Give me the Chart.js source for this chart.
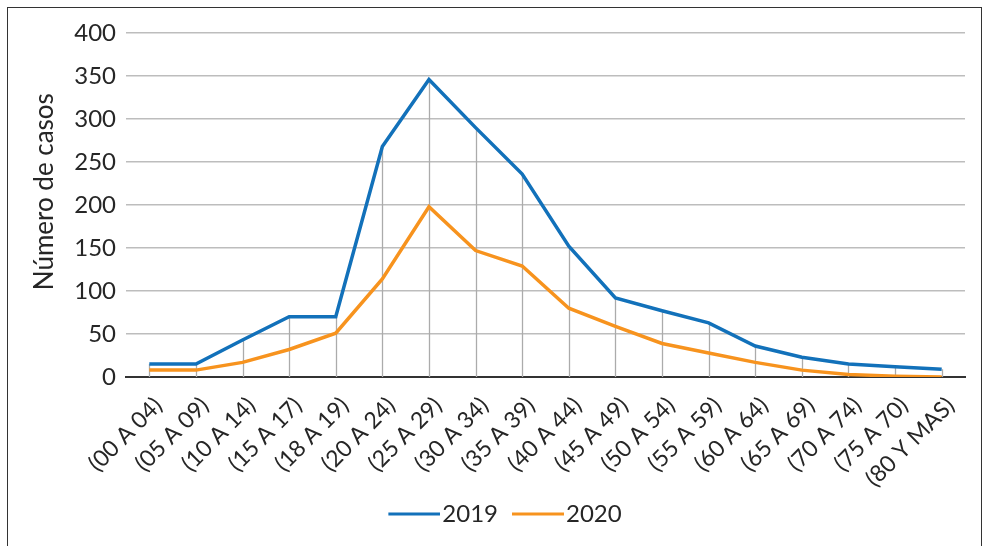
<!DOCTYPE html>
<html>
<head>
<meta charset="utf-8">
<script src="https://cdn.jsdelivr.net/npm/chart.js@4"></script>
<style>
  html, body { margin: 0; padding: 0; background: #fff; }
  #wrap { position: relative; width: 984px; height: 546px; overflow: hidden; }
  #frame { position: absolute; left: 7px; top: 7px; width: 973px; height: 600px; border: 1.5px solid #333; pointer-events: none; }
  canvas { position: absolute; left: 0; top: 0; }
</style>
</head>
<body>
<div id="wrap">
  <canvas id="myChart" width="984" height="546"></canvas>
  <div id="frame"></div>
</div>
<script>
const ageGroups = ['(00 A 04)', '(05 A 09)', '(10 A 14)', '(15 A 17)', '(18 A 19)', '(20 A 24)',
  '(25 A 29)', '(30 A 34)', '(35 A 39)', '(40 A 44)', '(45 A 49)', '(50 A 54)', '(55 A 59)',
  '(60 A 64)', '(65 A 69)', '(70 A 74)', '(75 A 70)', '(80 Y MAS)'];
const cases2019 = [15, 15, 43, 70, 70, 268, 346, 290, 236, 152, 92, 77, 63, 36, 23, 15, 12, 9];
const cases2020 = [8, 8, 17, 32, 51, 114, 198, 147, 129, 80, 59, 39, 28, 17, 8, 3, 1, 0];
const yTicks = [0, 50, 100, 150, 200, 250, 300, 350, 400];

const blue = '#1271BA';
const orange = '#F7931E';
const textColor = '#262626';

// legend swatch: a 52px line ending just before the label text
const swatchBox = 51;
function legendLine(color) {
  const c = document.createElement('canvas');
  c.width = swatchBox + 20;
  c.height = 4;
  const g = c.getContext('2d');
  g.fillStyle = color;
  g.fillRect(c.width - 52, 0.5, 52, 3);
  return c;
}

// vertical drop lines from the axis up to the highest series at each category
const dropLines = {
  id: 'dropLines',
  beforeDatasetsDraw(chart) {
    const { ctx, scales: { x, y } } = chart;
    ctx.save();
    ctx.strokeStyle = '#ABABAB';
    ctx.lineWidth = 1.3;
    ageGroups.forEach((g, i) => {
      const top = Math.max(cases2019[i], cases2020[i]);
      const px = Math.round(x.getPixelForValue(i)) + 0.5;
      ctx.beginPath();
      ctx.moveTo(px, y.getPixelForValue(0));
      ctx.lineTo(px, y.getPixelForValue(top));
      ctx.stroke();
    });
    ctx.restore();
  }
};

const ctx = document.getElementById('myChart');
new Chart(ctx, {
  type: 'line',
  data: {
    labels: ageGroups,
    datasets: [{
      label: '2019',
      data: cases2019,
      borderColor: blue,
      backgroundColor: blue,
      borderWidth: 3.5,
      pointRadius: 0,
      pointStyle: legendLine(blue),
      tension: 0
    }, {
      label: '2020',
      data: cases2020,
      borderColor: orange,
      backgroundColor: orange,
      borderWidth: 3.5,
      pointRadius: 0,
      pointStyle: legendLine(orange),
      tension: 0
    }]
  },
  options: {
    responsive: false,
    animation: false,
    layout: { padding: { left: 36, right: 19, top: 33, bottom: 10 } },
    plugins: {
      legend: {
        position: 'bottom',
        labels: {
          usePointStyle: true,
          pointStyleWidth: swatchBox,
          boxHeight: 4,
          color: textColor,
          font: { family: 'Lato', size: 24 },
          padding: 5
        }
      },
      tooltip: { enabled: false }
    },
    scales: {
      x: {
        offset: true,
        grid: { display: false, drawTicks: false },
        border: { color: '#333', width: 2 },
        afterFit(axis) { axis.height = 120; },
        ticks: {
          color: textColor,
          font: { family: 'Lato', size: 23 },
          maxRotation: 45,
          minRotation: 45,
          autoSkip: false,
          padding: 15,
          labelOffset: 9
        }
      },
      y: {
        min: 0,
        max: 400,
        afterBuildTicks(axis) { axis.ticks = yTicks.map(v => ({ value: v })); },
        afterFit(axis) { axis.width = 90; },
        grid: { color: '#BDBDBD', lineWidth: 1.5, drawTicks: false },
        border: { display: false },
        ticks: {
          color: textColor,
          font: { family: 'Lato', size: 24 },
          padding: 10
        },
        title: {
          display: true,
          text: '\u00a0\u00a0\u00a0\u00a0Número de casos',
          color: textColor,
          font: { family: 'Lato', size: 26 },
          padding: { top: -7, bottom: 0 }
        }
      }
    }
  },
  plugins: [dropLines]
});
</script>
</body>
</html>
